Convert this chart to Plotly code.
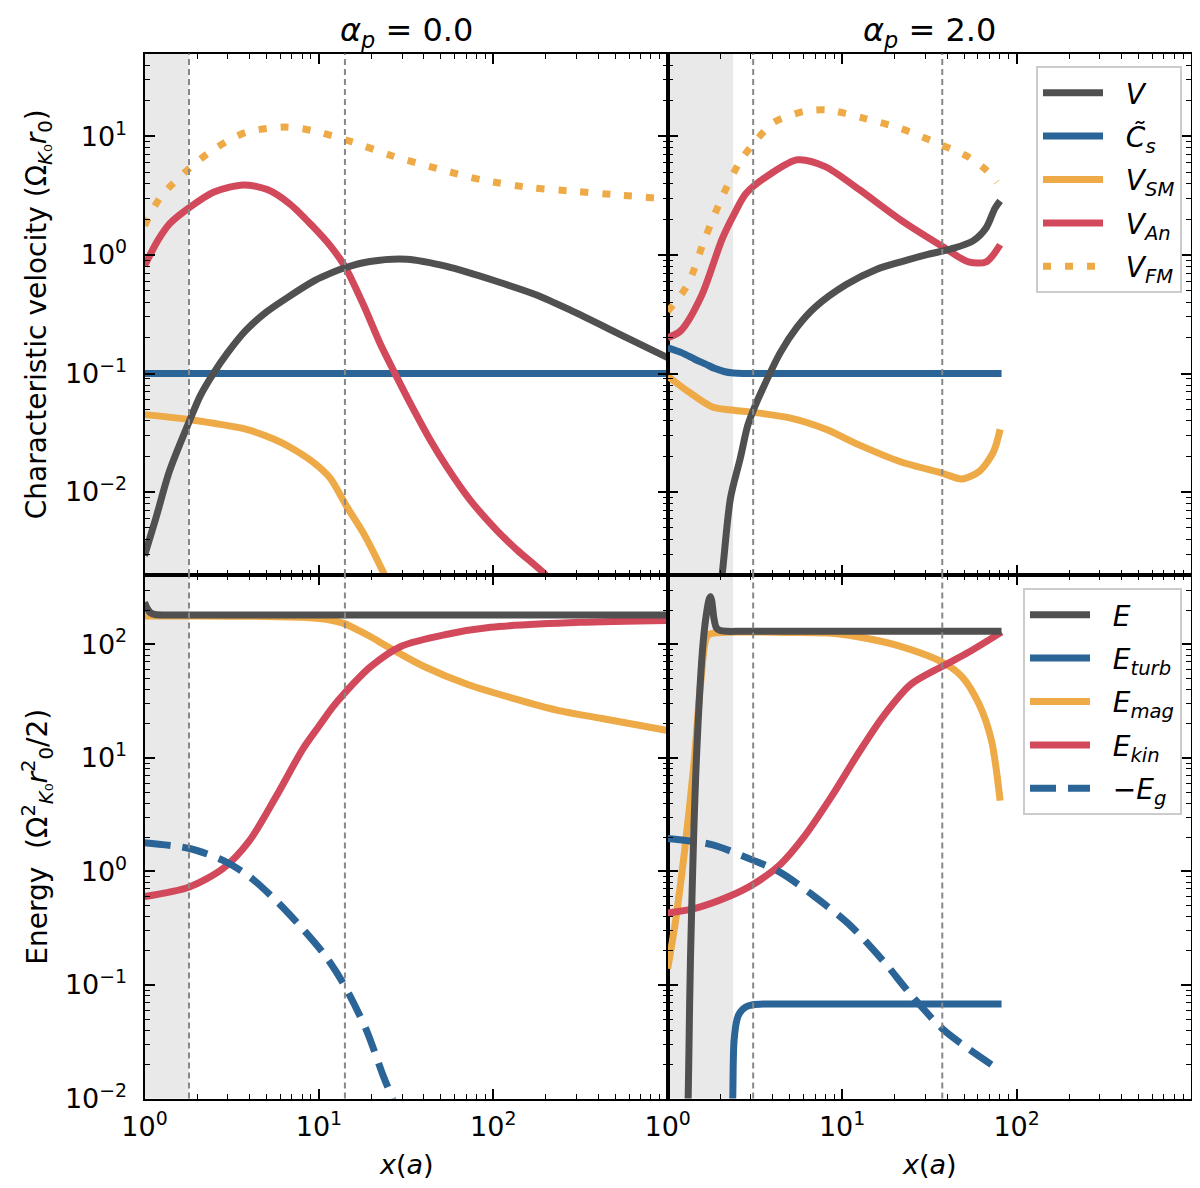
import plotly.graph_objects as go

# ---- data (x in units of a) ----
# top left: alpha_p = 0.0, characteristic velocities
x_v_a0 = [1, 1.165, 1.39, 1.8, 2.1, 2.48, 3.0, 3.8, 5.0, 6.8, 9.5, 11.6, 14.1, 19.6, 31.9, 54, 104, 177, 275, 565, 1000]
v_a0 = [0.0029, 0.0061, 0.015, 0.039, 0.066, 0.1, 0.15, 0.23, 0.33, 0.45, 0.61, 0.70, 0.78, 0.88, 0.92, 0.80, 0.60, 0.46, 0.344, 0.205, 0.136]
x_cs_a0 = [1, 1000]
cs_a0 = [0.1, 0.1]
x_vsm_a0 = [1, 1.8, 2.5, 3.8, 5.5, 6.8, 9.2, 11.6, 14.4, 18, 23.4, 27]
vsm_a0 = [0.045, 0.041, 0.038, 0.034, 0.028, 0.024, 0.018, 0.0131, 0.0076, 0.0045, 0.0021, 0.0013]
x_van_a0 = [1, 1.2, 1.4, 1.8, 2.5, 3.7, 5.1, 6.8, 9.2, 11.6, 14.1, 18, 22.4, 27.6, 34.8, 43.4, 54, 73.5, 104, 136, 190, 240]
van_a0 = [0.81, 1.35, 1.85, 2.5, 3.4, 3.9, 3.55, 2.7, 1.75, 1.2, 0.8, 0.38, 0.18, 0.097, 0.05, 0.0276, 0.0164, 0.0086, 0.0048, 0.00327, 0.00214, 0.0015]
x_vfm_a0 = [1, 1.24, 1.8, 2.5, 3.8, 6.4, 9.2, 15.5, 26, 48, 86, 164, 295, 534, 1000]
vfm_a0 = [1.77, 3.1, 5.35, 7.8, 10.8, 12.0, 11.2, 9.0, 6.9, 5.35, 4.3, 3.7, 3.44, 3.2, 2.96]

# top right: alpha_p = 2.0
x_v_a2 = [1.95, 2.05, 2.29, 2.6, 2.87, 3.08, 3.5, 4.42, 5.5, 6.96, 10.5, 15.7, 22, 31, 42.6, 56, 67, 75, 80.5]
v_a2 = [0.0012, 0.002, 0.0089, 0.019, 0.036, 0.048, 0.074, 0.15, 0.245, 0.36, 0.56, 0.755, 0.88, 1.01, 1.13, 1.31, 1.7, 2.46, 2.86]
x_cs_a2 = [1, 1.2, 1.43, 1.65, 1.87, 2.1, 2.38, 2.7, 3.2, 10, 82]
cs_a2 = [0.165, 0.15, 0.132, 0.12, 0.11, 0.104, 0.101, 0.1, 0.1, 0.1, 0.1]
x_vsm_a2 = [1, 1.3, 1.79, 2.38, 3.1, 5.07, 8, 12.5, 21.6, 37.6, 48.6, 61, 73.5, 80.5]
vsm_a2 = [0.095, 0.071, 0.0525, 0.049, 0.047, 0.042, 0.034, 0.025, 0.018, 0.0144, 0.0129, 0.0149, 0.0216, 0.0338]
x_van_a2 = [1, 1.19, 1.56, 2.05, 2.4, 2.81, 3.86, 5.55, 8, 12.5, 21.6, 37.6, 53, 67, 80.5]
van_a2 = [0.2, 0.23, 0.45, 1.36, 2.2, 3.3, 4.8, 6.35, 5.57, 3.57, 1.98, 1.18, 0.875, 0.875, 1.22]
x_vfm_a2 = [1, 1.3, 1.63, 2.05, 2.57, 3.1, 4.04, 6.07, 8.3, 13.7, 21.6, 37.6, 53, 67, 77]
vfm_a2 = [0.334, 0.56, 1.36, 3.08, 6.0, 8.7, 13.1, 16.3, 16.7, 14.1, 11.7, 8.4, 6.7, 5.2, 4.1]

# bottom left: energies, alpha_p = 0.0
x_e_a0 = [1, 1.04, 1.08, 1.15, 1.3, 2, 10, 1000]
e_a0 = [234, 205, 190, 183, 181, 181, 181, 181]
x_emag_a0 = [1, 2, 5, 8, 11, 14, 17, 19.7, 26.4, 39.8, 72, 130, 234, 420, 1000]
emag_a0 = [177, 177, 176, 173, 166, 152, 132, 117, 90, 64, 44, 33.4, 26.2, 22.2, 17.4]
x_ekin_a0 = [1, 1.81, 2.82, 4.0, 5.7, 8.1, 10, 12, 14, 19.7, 29.7, 53.6, 96.5, 314, 1000]
ekin_a0 = [0.6, 0.73, 1.06, 1.87, 4.6, 12, 19, 28, 37, 63, 96, 122, 141, 156, 162]
x_eg_a0 = [1, 1.81, 2.82, 4.0, 5.7, 8.1, 10.9, 14, 18.6, 23.5, 26.4, 28]
eg_a0 = [1.79, 1.59, 1.25, 0.9, 0.55, 0.31, 0.18, 0.099, 0.041, 0.0155, 0.01, 0.0075]

# bottom right: energies, alpha_p = 2.0
x_e_a2 = [1.3, 1.32, 1.35, 1.46, 1.6, 1.68, 1.73, 1.76, 1.79, 1.84, 1.9, 2.0, 2.2, 2.6, 4, 20, 82]
e_a2 = [0.005, 0.02, 0.163, 9.5, 108, 200, 250, 262, 240, 170, 140, 132, 130, 130, 130, 130, 130]
x_eturb_a2 = [2.33, 2.36, 2.4, 2.5, 2.59, 2.8, 3.08, 3.6, 5, 20, 82]
eturb_a2 = [0.005, 0.01, 0.032, 0.05, 0.057, 0.064, 0.067, 0.068, 0.068, 0.068, 0.068]
x_emag_a2 = [1, 1.11, 1.27, 1.42, 1.55, 1.7, 2.0, 5, 8.7, 13.7, 21.6, 37.6, 48.6, 61, 71.8, 80.5]
emag_a2 = [0.139, 0.37, 1.87, 9.5, 48, 120, 127, 127, 125, 113, 96, 69.5, 52, 29.6, 14.2, 4.2]
x_ekin_a2 = [1, 1.42, 2.24, 3.1, 4.42, 6.07, 8.7, 12.5, 17.2, 24.8, 37.6, 53, 82]
ekin_a2 = [0.43, 0.47, 0.6, 0.77, 1.15, 2.03, 4.57, 11.2, 23.2, 44.4, 64, 85, 128]
x_eg_a2 = [1, 1.79, 3.1, 4.42, 6.96, 11, 17.2, 24.8, 37.6, 53, 79]
eg_a2 = [1.95, 1.72, 1.25, 0.98, 0.6, 0.34, 0.163, 0.082, 0.041, 0.0274, 0.018]

# shaded zone end and dashed marker positions
shade_end = [1.8, 2.37]
dash_a0 = [1.8, 14.1]
dash_a2 = [3.09, 37.5]

GRAY = '#505050'
BLUE = '#2b6597'
ORANGE = '#edaa47'
RED = '#d1495b'
FONT = 'DejaVu Sans'
LW = 7
SP = '\u00a0\u00a0'  # pushes legend text away from the line sample

fig = go.Figure()


def add(x, y, name, color, xa, ya, legend, rank, dash='solid', show=True):
    fig.add_trace(go.Scatter(
        x=x, y=y, mode='lines', name=SP + name,
        line=dict(color=color, width=LW, dash=dash, shape='spline', smoothing=0.8),
        xaxis=xa, yaxis=ya, legend=legend, legendrank=rank,
        legendgroup=legend + str(rank), showlegend=show,
    ))


dot = '8px,14px'
dashed = '26px,12px'

# velocities (gray drawn last so it sits on top)
add(x_cs_a0, cs_a0, 'c', BLUE, 'x', 'y', 'legend', 2, show=False)
add(x_vsm_a0, vsm_a0, 's', ORANGE, 'x', 'y', 'legend', 3, show=False)
add(x_van_a0, van_a0, 'a', RED, 'x', 'y', 'legend', 4, show=False)
add(x_vfm_a0, vfm_a0, 'f', ORANGE, 'x', 'y', 'legend', 5, dash=dot, show=False)
add(x_v_a0, v_a0, 'v', GRAY, 'x', 'y', 'legend', 1, show=False)

add(x_cs_a2, cs_a2, '<i>C\u0303</i><sub><i>s</i></sub>', BLUE, 'x2', 'y2', 'legend', 2)
add(x_vsm_a2, vsm_a2, '<i>V</i><sub><i>SM</i></sub>', ORANGE, 'x2', 'y2', 'legend', 3)
add(x_van_a2, van_a2, '<i>V</i><sub><i>An</i></sub>', RED, 'x2', 'y2', 'legend', 4)
add(x_vfm_a2, vfm_a2, '<i>V</i><sub><i>FM</i></sub>', ORANGE, 'x2', 'y2', 'legend', 5, dash=dot)
add(x_v_a2, v_a2, '<i>V</i>', GRAY, 'x2', 'y2', 'legend', 1)

# energies
add(x_emag_a0, emag_a0, 'm', ORANGE, 'x3', 'y3', 'legend2', 3, show=False)
add(x_ekin_a0, ekin_a0, 'k', RED, 'x3', 'y3', 'legend2', 4, show=False)
add(x_eg_a0, eg_a0, 'g', BLUE, 'x3', 'y3', 'legend2', 5, dash=dashed, show=False)
add(x_e_a0, e_a0, 'e', GRAY, 'x3', 'y3', 'legend2', 1, show=False)

add(x_eturb_a2, eturb_a2, '<i>E</i><sub><i>turb</i></sub>', BLUE, 'x4', 'y4', 'legend2', 2)
add(x_emag_a2, emag_a2, '<i>E</i><sub><i>mag</i></sub>', ORANGE, 'x4', 'y4', 'legend2', 3)
add(x_ekin_a2, ekin_a2, '<i>E</i><sub><i>kin</i></sub>', RED, 'x4', 'y4', 'legend2', 4)
add(x_eg_a2, eg_a2, '\u2212<i>E</i><sub><i>g</i></sub>', BLUE, 'x4', 'y4', 'legend2', 5, dash=dashed)
add(x_e_a2, e_a2, '<i>E</i>', GRAY, 'x4', 'y4', 'legend2', 1)

# ---- layout: the page body has an 8px margin, so the figure is 16px smaller ----
W, H = 1184, 1172


def fx(p):
    return (p - 8) / W


def fy(p):
    return 1 - (p - 8) / H


xl = [fx(144.5), fx(667.7)]
xr = [fx(667.7), fx(1191)]
yt = [fy(575), fy(53.5)]
yb = [fy(1098.5), fy(575)]

minor_x = [m * 10 ** k for k in range(3) for m in range(2, 10)]
minor_y = [m * 10.0 ** k for k in range(-3, 3) for m in range(2, 10)]


def pw(k):
    return '10<sup>' + str(k).replace('-', '\u2212') + '</sup>'


def axis(domain, anchor, rng, tickvals, labels, minor, standoff=3):
    d = dict(
        type='log', domain=domain, anchor=anchor, range=rng, automargin=False,
        showline=True, linecolor='black', linewidth=2, mirror='allticks',
        ticks='inside', ticklen=10, tickwidth=1.6, tickcolor='black',
        tickmode='array', tickvals=tickvals, showticklabels=bool(labels),
        minor=dict(ticks='inside', ticklen=5, tickwidth=1.3, tickcolor='black',
                   tickmode='array', tickvals=minor, showgrid=False),
        showgrid=False, zeroline=False, ticklabelstandoff=standoff,
        tickfont=dict(family=FONT, size=27, color='black'),
    )
    if labels:
        d['ticktext'] = labels
    return d


xt = [1, 10, 100]
xlab = [pw(0), pw(1), pw(2)]
yt_vals = [0.01, 0.1, 1, 10]
yt_lab = [pw(-2), pw(-1), pw(0), pw(1)]
yb_vals = [0.01, 0.1, 1, 10, 100]
yb_lab = [pw(-2), pw(-1), pw(0), pw(1), pw(2)]

fig.update_layout(
    xaxis=axis(xl, 'y', [0, 3], xt, None, minor_x),
    xaxis2=axis(xr, 'y2', [0, 3], xt, None, minor_x),
    xaxis3=axis(xl, 'y3', [0, 3], xt, xlab, minor_x),
    xaxis4=axis(xr, 'y4', [0, 3], xt, xlab, minor_x),
    yaxis=axis(yt, 'x', [-2.7, 1.7], yt_vals, yt_lab, minor_y, 10),
    yaxis2=axis(yt, 'x2', [-2.7, 1.7], yt_vals, None, minor_y),
    yaxis3=axis(yb, 'x3', [-2, 2.61], yb_vals, yb_lab, minor_y, 10),
    yaxis4=axis(yb, 'x4', [-2, 2.61], yb_vals, None, minor_y),
)

# shaded zones and dashed markers
shapes = []
for xa, ya, end in [('x', 'y', shade_end[0]), ('x3', 'y3', shade_end[0]),
                    ('x2', 'y2', shade_end[1]), ('x4', 'y4', shade_end[1])]:
    shapes.append(dict(type='rect', xref=xa, yref=ya + ' domain', x0=1, x1=end, y0=0, y1=1,
                       fillcolor='#e9e9e9', line=dict(width=0), layer='below'))
for xa, ya, pos in [('x', 'y', dash_a0), ('x3', 'y3', dash_a0), ('x2', 'y2', dash_a2), ('x4', 'y4', dash_a2)]:
    for p in pos:
        shapes.append(dict(type='line', xref=xa, yref=ya + ' domain', x0=p, x1=p, y0=0, y1=1,
                           line=dict(color='#888888', width=2, dash='6px,4px'), layer='above'))

ann = []
for cx, t in [((xl[0] + xl[1]) / 2, '0.0'), ((xr[0] + xr[1]) / 2, '2.0')]:
    ann.append(dict(text='<i>\u03b1</i><sub><i>p</i></sub> = ' + t, x=cx, y=fy(9), yanchor='top',
                    font=dict(family=FONT, size=32, color='black')))
    ann.append(dict(text='<i>x</i>(<i>a</i>)', x=cx, y=fy(1164), yanchor='middle',
                    font=dict(family=FONT, size=27, color='black')))
ann.append(dict(text='Characteristic velocity (\u03a9<sub><i>K</i>\u2080</sub><i>r</i><sub>0</sub>)',
                x=fx(38), y=(yt[0] + yt[1]) / 2, textangle=-90, yanchor='middle',
                font=dict(family=FONT, size=28, color='black')))
ann.append(dict(text='Energy  (\u03a9<sup>2</sup><sub><i>K</i>\u2080</sub><i>r</i><sup>2</sup><sub>0</sub>/2)',
                x=fx(38), y=(yb[0] + yb[1]) / 2, textangle=-90, yanchor='middle',
                font=dict(family=FONT, size=28, color='black')))
for a in ann:
    a.update(xref='paper', yref='paper', showarrow=False, xanchor='center')

leg = dict(xanchor='right', yanchor='top', bgcolor='rgba(255,255,255,0.85)',
           bordercolor='#cccccc', borderwidth=2, tracegroupgap=4,
           font=dict(family=FONT, size=28, color='black'), itemwidth=60)

fig.update_layout(
    width=W, height=H, margin=dict(l=0, r=0, t=0, b=0, pad=0),
    plot_bgcolor='white', paper_bgcolor='white',
    shapes=shapes, annotations=ann,
    legend=dict(leg, x=fx(1182), y=fy(66)),
    legend2=dict(leg, x=fx(1182), y=fy(588)),
)

fig.write_html('out.html')
